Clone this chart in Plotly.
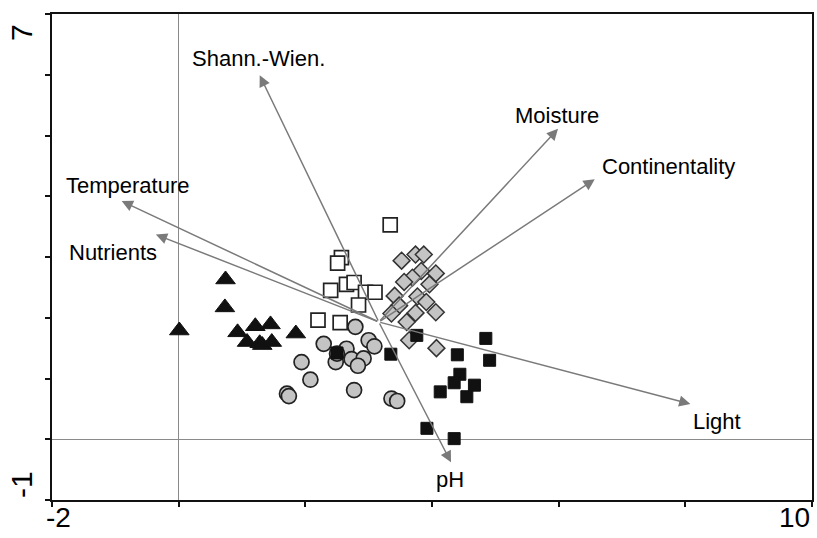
import plotly.graph_objects as go

# ---- data ----
tri_x = [0.74, 0.73, 0.01, 0.93, 1.21, 1.45, 1.08, 1.28, 1.32, 1.47, 1.85]
tri_y = [2.63, 2.17, 1.79, 1.76, 1.86, 1.89, 1.60, 1.58, 1.55, 1.60, 1.74]

osq_x = [3.34, 2.57, 2.51, 2.40, 2.65, 2.77, 2.95, 3.10, 2.84, 2.20, 2.55]
osq_y = [3.53, 2.99, 2.90, 2.45, 2.55, 2.58, 2.42, 2.42, 2.21, 1.96, 1.92]

cir_x = [2.79, 2.29, 3.00, 3.09, 2.65, 2.48, 2.73, 2.92, 2.83, 1.94, 2.08, 1.71, 1.74, 2.77, 3.36, 3.45, 2.50]
cir_y = [1.85, 1.57, 1.63, 1.53, 1.49, 1.27, 1.32, 1.33, 1.21, 1.27, 0.98, 0.75, 0.71, 0.81, 0.67, 0.63, 1.41]

bsq_x = [2.50, 3.35, 3.76, 4.40, 4.85, 4.91, 4.44, 4.35, 4.67, 4.13, 4.55, 3.92, 4.35]
bsq_y = [1.42, 1.40, 1.71, 1.39, 1.66, 1.30, 1.07, 0.93, 0.89, 0.78, 0.70, 0.18, 0.01]

dia_x = [3.52, 3.74, 3.87, 3.83, 4.06, 3.69, 3.56, 3.96, 3.41, 3.77, 3.91, 3.48, 3.36, 3.74, 4.06, 3.60, 3.64, 4.07]
dia_y = [2.94, 3.04, 3.04, 2.77, 2.73, 2.66, 2.59, 2.55, 2.36, 2.35, 2.26, 2.20, 2.07, 2.08, 2.09, 1.93, 1.63, 1.50]

vec_names = ["Temperature", "Nutrients", "Shann.-Wien.", "Moisture", "Continentality", "Light", "pH"]
vec_x = [-0.90, -0.36, 1.28, 5.99, 6.57, 8.08, 4.30]
vec_y = [3.92, 3.37, 5.99, 5.11, 4.28, 0.58, -0.38]
origin_x = 3.16
origin_y = 1.93
lab_x = [-0.80, -1.04, 1.26, 5.97, 7.74, 8.50, 4.29]
lab_y = [4.17, 3.07, 6.27, 5.33, 4.49, 0.30, -0.67]

x_range = [-2, 10]
y_range = [-1, 7]
x_ticks = [-2, 0, 2, 4, 6, 8, 10]
y_ticks = [-1, 0, 1, 2, 3, 4, 5, 6, 7]

FONT = "Liberation Sans, Arial, sans-serif"

fig = go.Figure()
fig.add_trace(go.Scatter(x=cir_x, y=cir_y, mode="markers",
                         marker=dict(symbol="circle", size=15, color="#c4c4c4",
                                     line=dict(color="#222222", width=1.7))))
fig.add_trace(go.Scatter(x=osq_x, y=osq_y, mode="markers",
                         marker=dict(symbol="square", size=14, color="white",
                                     line=dict(color="#222222", width=1.7))))
fig.add_trace(go.Scatter(x=dia_x, y=dia_y, mode="markers",
                         marker=dict(symbol="diamond", size=13, color="#c4c4c4",
                                     line=dict(color="#333333", width=1.5))))
fig.add_trace(go.Scatter(x=bsq_x, y=bsq_y, mode="markers",
                         marker=dict(symbol="square", size=12, color="#111111",
                                     line=dict(color="#111111", width=1))))
fig.add_trace(go.Scatter(x=tri_x, y=tri_y, mode="markers",
                         marker=dict(symbol="triangle-up", size=17, color="#111111",
                                     line=dict(color="#111111", width=1))))

annotations = []
for name, vx, vy, lx, ly in zip(vec_names, vec_x, vec_y, lab_x, lab_y):
    annotations.append(dict(x=vx, y=vy, ax=origin_x, ay=origin_y,
                            xref="x", yref="y", axref="x", ayref="y",
                            text="", showarrow=True, arrowhead=2, arrowsize=1.5,
                            arrowwidth=1.5, arrowcolor="#7a7a7a"))
    annotations.append(dict(x=lx, y=ly, xref="x", yref="y", text=name,
                            showarrow=False, xanchor="center", yanchor="middle",
                            font=dict(family=FONT, size=22, color="#000000")))

# axis end labels
annotations += [
    dict(x=0, y=0, xref="paper", yref="paper", text="-2", showarrow=False,
         xanchor="left", yanchor="top", xshift=-8, yshift=0,
         font=dict(family=FONT, size=28, color="#000000")),
    dict(x=1, y=0, xref="paper", yref="paper", text="10", showarrow=False,
         xanchor="right", yanchor="top", xshift=0, yshift=0,
         font=dict(family=FONT, size=28, color="#000000")),
    dict(x=0, y=1, xref="paper", yref="paper", text="7", showarrow=False,
         xanchor="right", yanchor="top", xshift=-12, yshift=-8, textangle=-90,
         font=dict(family=FONT, size=30, color="#000000")),
    dict(x=0, y=0, xref="paper", yref="paper", text="-1", showarrow=False,
         xanchor="right", yanchor="bottom", xshift=-12, yshift=0, textangle=-90,
         font=dict(family=FONT, size=30, color="#000000")),
]

fig.update_layout(
    width=817, height=538,
    margin=dict(l=52, r=3, t=14, b=38),
    paper_bgcolor="white", plot_bgcolor="white",
    showlegend=False,
    annotations=annotations,
    xaxis=dict(range=x_range, tickvals=x_ticks, showticklabels=False,
               ticks="outside", ticklen=5, tickwidth=1.5, tickcolor="#111111",
               showgrid=False, zeroline=True, zerolinecolor="#8a8a8a", zerolinewidth=1,
               showline=True, linecolor="#111111", linewidth=2, mirror=True),
    yaxis=dict(range=y_range, tickvals=y_ticks, showticklabels=False,
               ticks="outside", ticklen=5, tickwidth=1.5, tickcolor="#111111",
               showgrid=False, zeroline=True, zerolinecolor="#8a8a8a", zerolinewidth=1,
               showline=True, linecolor="#111111", linewidth=2, mirror=True),
)

fig.write_html("out.html")
